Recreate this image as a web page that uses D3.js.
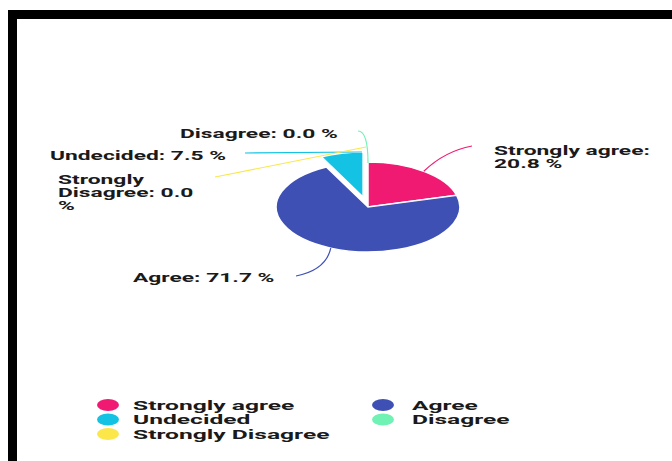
<!DOCTYPE html>
<html><head><meta charset="utf-8">
<script src="https://cdn.jsdelivr.net/npm/d3@7"></script>
<style>
html,body{margin:0;padding:0;background:#fff;}
svg{display:block;}
text{font-family:Roboto,"Noto Sans",sans-serif;font-weight:700;fill:#1a1a1a;}
</style></head>
<body>
<script>
// ---- data ----
const categories = ["Strongly agree", "Agree", "Undecided", "Disagree", "Strongly Disagree"];
const values = [20.8, 71.7, 7.5, 0.0, 0.0];
const colors = ["#f01a73", "#3e50b4", "#14c3e3", "#6ff2b4", "#fbe74a"];
const pieOrder = ["Strongly agree", "Agree", "Strongly Disagree", "Undecided", "Disagree"];
const explodedCategory = "Undecided";

const W = 672, H = 461;
const SX = 1.9;           // horizontal stretch of the picture
const PIE_SX = 2.04;
const cx = 368, cy = 207, R = 45;

const data = categories.map((c, i) => ({cat: c, value: values[i], color: colors[i]}));

const svg = d3.select("body").append("svg").attr("width", W).attr("height", H);
svg.append("rect").attr("width", W).attr("height", H).attr("fill", "#fff");

// frame
svg.append("rect").attr("x", 8).attr("y", 10).attr("width", W - 8).attr("height", 9).attr("fill", "#000");
svg.append("rect").attr("x", 8).attr("y", 10).attr("width", 9).attr("height", H - 10).attr("fill", "#000");

// pie
const pie = d3.pie().value(d => d.value)
  .sort((a, b) => pieOrder.indexOf(a.cat) - pieOrder.indexOf(b.cat));
const arcs = pie(data);
const arc = d3.arc().innerRadius(0).outerRadius(R);

const pg = svg.append("g").attr("transform", `translate(${cx},${cy}) scale(${PIE_SX},1)`);
pg.selectAll("path").data(arcs.filter(d => d.value > 0)).join("path")
  .attr("d", arc)
  .attr("fill", d => d.data.color)
  .attr("stroke", "#fff").attr("stroke-width", 1.5)
  .attr("vector-effect", "non-scaling-stroke")
  .attr("transform", d => {
    if (d.data.cat !== explodedCategory) return null;
    const m = (d.startAngle + d.endAngle) / 2, off = 10.3;
    return `translate(${Math.sin(m) * off},${-Math.cos(m) * off})`;
  });

function edgePoint(angle, r, off) {
  return [cx + Math.sin(angle) * (r + off) * PIE_SX, cy - Math.cos(angle) * (r + off)];
}

// label definitions (positions of text blocks and leader line end points)
const labelInfo = {
  "Strongly agree":    {lines: ["Strongly agree:", "20.8 %"], x: 494, y: 155, end: [472, 146], ctrl: [445, 151]},
  "Agree":             {lines: ["Agree: 71.7 %"], x: 133, y: 282, end: [296, 276], ctrl: [326, 270]},
  "Strongly Disagree": {lines: ["Strongly", "Disagree: 0.0", "%"], x: 58, y: 184, end: [215, 177], ctrl: null},
  "Undecided":         {lines: ["Undecided: 7.5 %"], x: 50, y: 160, end: [245, 153], ctrl: null},
  "Disagree":          {lines: ["Disagree: 0.0 %"], x: 180, y: 138, end: [358, 131], ctrl: [368, 131]}
};

const lg = svg.append("g");
arcs.forEach(d => {
  const info = labelInfo[d.data.cat];
  const m = (d.startAngle + d.endAngle) / 2;
  let s;
  if (d.data.cat === "Undecided") s = [cx - 6, cy - R - 10];
  else if (d.data.cat === "Strongly Disagree") s = [cx - 2, cy - R - 15];
  else if (d.data.cat === "Disagree") s = [cx, cy - R + 1];
  else s = edgePoint(m, R, 0);
  const p = d3.path();
  p.moveTo(s[0], s[1]);
  if (info.ctrl) p.quadraticCurveTo(info.ctrl[0], info.ctrl[1], info.end[0], info.end[1]);
  else p.lineTo(info.end[0], info.end[1]);
  lg.append("path").attr("d", p.toString()).attr("fill", "none")
    .attr("stroke", d.data.color).attr("stroke-width", 1.2);

  info.lines.forEach((t, i) => {
    svg.append("text")
      .attr("transform", `translate(${info.x},${info.y + i * 13}) scale(${SX},1)`)
      .attr("font-size", 12)
      .text(t);
  });
});

// legend
const legCols = [108, 383], legTextX = [133, 412], legRows = [409.5, 424, 438.5];
data.forEach((d, i) => {
  const col = i % 2, row = Math.floor(i / 2);
  svg.append("ellipse")
    .attr("cx", legCols[col]).attr("cy", legRows[row] - 4.5)
    .attr("rx", 11).attr("ry", 6)
    .attr("fill", d.color);
  svg.append("text")
    .attr("transform", `translate(${legTextX[col]},${legRows[row]}) scale(2.05,1)`)
    .attr("font-size", 12)
    .attr("fill", "#333")
    .text(d.cat);
});
</script>
</body></html>
